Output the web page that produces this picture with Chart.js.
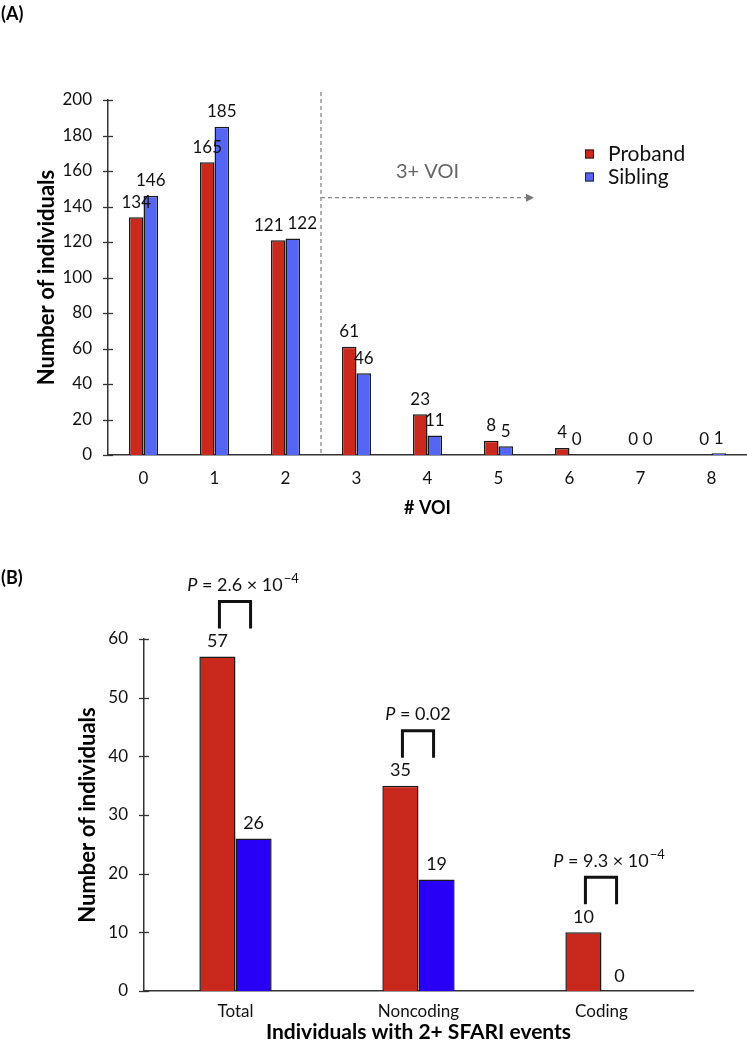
<!DOCTYPE html>
<html>
<head>
<meta charset="utf-8">
<script src="https://cdn.jsdelivr.net/npm/chart.js@4.4.0/dist/chart.umd.min.js"></script>
<style>
    html, body { margin: 0; padding: 0; background: #fff; }
    body { width: 747px; height: 1050px; position: relative; overflow: hidden; font-family: Lato, sans-serif; }
    .panel { position: absolute; left: 0; width: 747px; }
    #wrapA { top: 0; height: 530px; }
    #wrapB { top: 530px; height: 520px; }
    .tag { position: absolute; left: 1px; font: bold 18px Lato, sans-serif; color: #000; }
</style>
</head>
<body>
<div id="wrapA" class="panel"><canvas id="chartA" width="747" height="530"></canvas></div>
<div id="wrapB" class="panel"><canvas id="chartB" width="747" height="520"></canvas></div>
<div class="tag" style="top:2px">(A)</div>
<div class="tag" style="top:566px">(B)</div>

<script>
// Panel A data: number of VOI per individual
const voiCategories = ['0', '1', '2', '3', '4', '5', '6', '7', '8'];
const probandVOI = [134, 165, 121, 61, 23, 8, 4, 0, 0];
const siblingVOI = [146, 185, 122, 46, 11, 5, 0, 0, 1];
const voiAxis = [0, 200, 20];          // min, max, step

// Panel B data: individuals with 2+ SFARI events
const sfariCategories = ['Total', 'Noncoding', 'Coding'];
const probandSFARI = [57, 35, 10];
const siblingSFARI = [26, 19, 0];
const sfariAxis = [0, 60, 10];
const sfariPValues = [['2.6 × 10', '−4'], ['0.02', ''], ['9.3 × 10', '−4']];

const AXIS = '#333';
const FONT = 'Lato, sans-serif';

// value written above every bar (zeros too); pairs that would collide are pushed apart
const valueLabels = {
    id: 'valueLabels',
    afterDatasetsDraw(chart, args, opts) {
        const ctx = chart.ctx;
        ctx.save();
        ctx.font = opts.font;
        ctx.fillStyle = '#111';
        ctx.textAlign = 'center';
        ctx.textBaseline = 'middle';
        const metas = chart.data.datasets.map((ds, i) => chart.getDatasetMeta(i).data);
        chart.data.labels.forEach((lab, j) => {
            const items = chart.data.datasets.map((ds, i) => {
                const txt = String(ds.data[j]);
                return { txt, x: metas[i][j].x, y: metas[i][j].y - opts.gap, w: ctx.measureText(txt).width };
            });
            if (items.length === 2) {
                const [a, b] = items;
                const overlap = (a.x + a.w / 2 + 4) - (b.x - b.w / 2);
                if (overlap > 0 && Math.abs(a.y - b.y) < opts.size) {
                    a.x -= overlap / 2;
                    b.x += overlap / 2;
                }
            }
            items.forEach(it => ctx.fillText(it.txt, it.x, it.y));
        });
        ctx.restore();
    }
};

// y ticks that cross the axis line
const crossTicks = {
    id: 'crossTicks',
    afterDraw(chart) {
        const y = chart.scales.y;
        const ctx = chart.ctx;
        ctx.save();
        ctx.strokeStyle = AXIS;
        ctx.lineWidth = 1.3;
        y.ticks.forEach((t, i) => {
            const py = Math.round(y.getPixelForTick(i)) + 0.5;
            ctx.beginPath();
            ctx.moveTo(y.right - 5, py);
            ctx.lineTo(y.right + 5, py);
            ctx.stroke();
        });
        ctx.restore();
    }
};

function axisOptions(cfg) {
    return {
        x: {
            grid: { display: false, drawTicks: false },
            border: { display: true, color: AXIS, width: 1.5 },
            ticks: { color: '#111', font: { family: FONT, size: 17 }, padding: cfg.xPad },
            title: {
                display: true, text: cfg.xTitle, color: '#000',
                font: { family: FONT, size: cfg.xTitleSize, weight: 'bold' },
                padding: { top: 0, bottom: cfg.xTitlePad }
            },
            afterFit: s => { s.height = cfg.xHeight; }
        },
        y: {
            min: cfg.range[0], max: cfg.range[1],
            grid: { display: false, drawTicks: false },
            border: { display: true, color: AXIS, width: 1.5 },
            ticks: { stepSize: cfg.range[2], color: '#111', font: { family: FONT, size: 17 }, padding: 16 },
            title: {
                display: true, text: 'Number of individuals', color: '#000',
                font: { family: FONT, size: 22, weight: 'bold' },
                padding: { top: cfg.yTitlePad, bottom: 0 }
            },
            afterFit: s => { s.width = cfg.yWidth; }
        }
    };
}

// Panel A extras: 3+ VOI marker and legend
const voiMarker = {
    id: 'voiMarker',
    afterDraw(chart) {
        const ctx = chart.ctx;
        const x = chart.scales.x, y = chart.scales.y;
        const cut = (x.getPixelForValue(2) + x.getPixelForValue(3)) / 2;
        const end = (x.getPixelForValue(5) + x.getPixelForValue(6)) / 2;
        const ay = y.getPixelForValue(145);
        ctx.save();
        ctx.strokeStyle = '#888';
        ctx.lineWidth = 1.3;
        ctx.setLineDash([4, 3]);
        ctx.beginPath();
        ctx.moveTo(cut, chart.chartArea.top - 8);
        ctx.lineTo(cut, chart.chartArea.bottom);
        ctx.moveTo(cut, ay);
        ctx.lineTo(end - 6, ay);
        ctx.stroke();
        ctx.setLineDash([]);
        ctx.fillStyle = '#777';
        ctx.beginPath();
        ctx.moveTo(end, ay);
        ctx.lineTo(end - 8, ay - 4);
        ctx.lineTo(end - 8, ay + 4);
        ctx.closePath();
        ctx.fill();
        ctx.fillStyle = '#666';
        ctx.font = '20px ' + FONT;
        ctx.textAlign = 'center';
        ctx.textBaseline = 'middle';
        ctx.fillText('3+ VOI', (cut + end) / 2, ay - 26);

        // legend
        ctx.textAlign = 'left';
        ctx.font = '21px ' + FONT;
        chart.data.datasets.forEach((ds, i) => {
            const ly = 154 + i * 23;
            ctx.fillStyle = ds.backgroundColor;
            ctx.fillRect(585, ly - 4.5, 9, 9);
            ctx.strokeStyle = '#222';
            ctx.lineWidth = 1;
            ctx.strokeRect(585.5, ly - 4, 8, 8);
            ctx.fillStyle = '#111';
            ctx.fillText(ds.label, 608, ly);
        });
        ctx.restore();
    }
};

// Panel B extras: brackets with P values
const pBrackets = {
    id: 'pBrackets',
    afterDraw(chart) {
        const ctx = chart.ctx;
        const y = chart.scales.y;
        const red = chart.getDatasetMeta(0).data;
        const blue = chart.getDatasetMeta(1).data;
        ctx.save();
        sfariPValues.forEach((p, i) => {
            const top = Math.max(probandSFARI[i], siblingSFARI[i]);
            const x1 = red[i].x + 2, x2 = blue[i].x - 3;
            const yb = y.getPixelForValue(top) - 28;
            const yt = yb - 27;
            ctx.strokeStyle = '#111';
            ctx.lineWidth = 3;
            ctx.lineJoin = 'miter';
            ctx.beginPath();
            ctx.moveTo(x1, yb);
            ctx.lineTo(x1, yt);
            ctx.lineTo(x2, yt);
            ctx.lineTo(x2, yb);
            ctx.stroke();

            // "P = value" centred on bracket, exponent hanging to the right
            const ty = yt - 16;
            ctx.fillStyle = '#111';
            ctx.textBaseline = 'middle';
            ctx.textAlign = 'left';
            ctx.font = 'italic 18px ' + FONT;
            const wP = ctx.measureText('P').width;
            ctx.font = '18px ' + FONT;
            const rest = ' = ' + p[0];
            const wR = ctx.measureText(rest).width;
            const tx = (x1 + x2) / 2 - (wP + wR) / 2;
            ctx.font = 'italic 18px ' + FONT;
            ctx.fillText('P', tx, ty);
            ctx.font = '18px ' + FONT;
            ctx.fillText(rest, tx + wP, ty);
            if (p[1]) {
                ctx.font = '13px ' + FONT;
                ctx.fillText(p[1], tx + wP + wR + 1, ty - 7);
            }
        });
        ctx.restore();
    }
};

new Chart(document.getElementById('chartA'), {
    type: 'bar',
    data: {
        labels: voiCategories,
        datasets: [
            { label: 'Proband', data: probandVOI, backgroundColor: '#CC291E', borderColor: '#1a1a1a', borderWidth: 1.5 },
            { label: 'Sibling', data: siblingVOI, backgroundColor: '#5566F5', borderColor: '#1a1a1a', borderWidth: 1.5 }
        ]
    },
    options: {
        responsive: false,
        animation: false,
        layout: { padding: { top: 100, left: 0, right: 0, bottom: 0 } },
        datasets: { bar: { categoryPercentage: 0.41, barPercentage: 1 } },
        plugins: {
            legend: { display: false },
            tooltip: { enabled: false },
            valueLabels: { font: '17px ' + FONT, size: 17, gap: 15 }
        },
        scales: axisOptions({
            xTitle: '# VOI', xTitleSize: 18, xTitlePad: 11, xHeight: 75, xPad: 13,
            range: voiAxis, yWidth: 108, yTitlePad: 34
        })
    },
    plugins: [valueLabels, crossTicks, voiMarker]
});

new Chart(document.getElementById('chartB'), {
    type: 'bar',
    data: {
        labels: sfariCategories,
        datasets: [
            { label: 'Proband', data: probandSFARI, backgroundColor: '#C9281D', borderColor: '#1a1a1a', borderWidth: 1.5 },
            { label: 'Sibling', data: siblingSFARI, backgroundColor: '#2800F5', borderColor: '#1a1a1a', borderWidth: 1.5 }
        ]
    },
    options: {
        responsive: false,
        animation: false,
        layout: { padding: { top: 109, left: 0, right: 54, bottom: 0 } },
        datasets: { bar: { categoryPercentage: 0.395, barPercentage: 1 } },
        plugins: {
            legend: { display: false },
            tooltip: { enabled: false },
            valueLabels: { font: '18px ' + FONT, size: 18, gap: 15 }
        },
        scales: axisOptions({
            xTitle: 'Individuals with 2+ SFARI events', xTitleSize: 21, xTitlePad: 5, xHeight: 59, xPad: 10,
            range: sfariAxis, yWidth: 144, yTitlePad: 75
        })
    },
    plugins: [valueLabels, crossTicks, pBrackets]
});
</script>
</body>
</html>
